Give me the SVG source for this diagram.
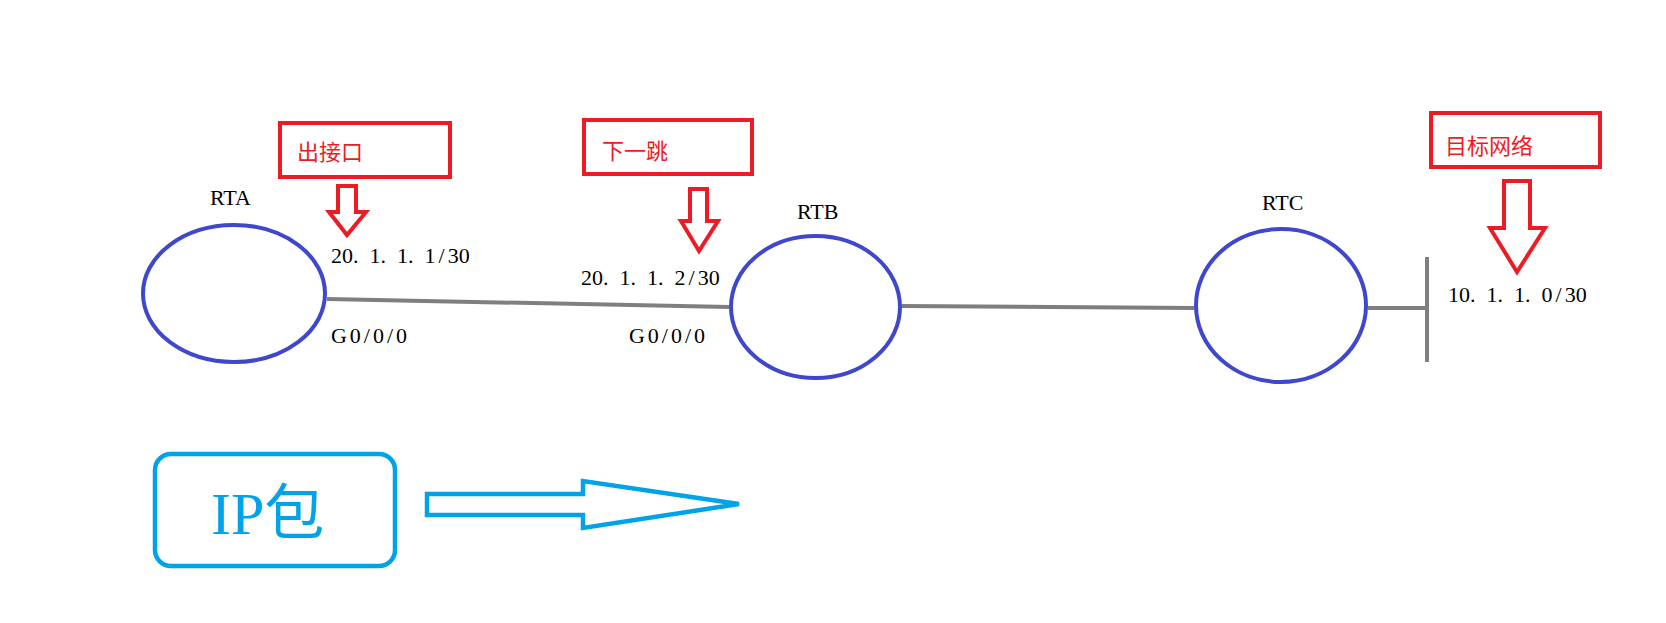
<svg xmlns="http://www.w3.org/2000/svg" width="1666" height="623" viewBox="0 0 1666 623">
<style>
.router{fill:none;stroke:#3F48CC;stroke-width:4}
.link{stroke:#7F7F7F;stroke-width:4;fill:none}
.rbox{fill:#fff;stroke:#ED1C24;stroke-width:4}
.rarrow{fill:#fff;stroke:#ED1C24;stroke-width:4;stroke-linejoin:miter}
.rlabel{font-family:"Liberation Serif","Noto Sans CJK SC",serif;font-size:22px;fill:#ED1C24}
.lbl{font-family:"Liberation Serif","Noto Sans CJK SC",serif;font-size:22px;fill:#000}
.blue{fill:#fff;stroke:#00A2E8;stroke-width:4.5}
</style>
<rect width="1666" height="623" fill="#fff"/>
<g id="connectors">
<line class="link" x1="327" y1="299" x2="729" y2="307"/>
<line class="link" x1="902" y1="306" x2="1194" y2="308"/>
<line class="link" x1="1368" y1="308" x2="1427" y2="308"/>
<line class="link" x1="1427" y1="257" x2="1427" y2="362"/>
</g>
<g id="RTA">
<ellipse class="router" cx="234" cy="293.5" rx="91" ry="68.5"/>
<text class="lbl" x="210" y="205">RTA</text>
<text class="lbl" x="331" y="263">20.<tspan dx="11">1.</tspan><tspan dx="11">1.</tspan><tspan dx="11">1</tspan><tspan dx="3">/</tspan><tspan dx="3">30</tspan></text>
<text class="lbl" x="331" y="343" textLength="76" lengthAdjust="spacing">G0/0/0</text>
</g>
<g id="RTB">
<ellipse class="router" cx="815.5" cy="307" rx="84.5" ry="71"/>
<text class="lbl" x="797" y="219">RTB</text>
<text class="lbl" x="581" y="285">20.<tspan dx="11">1.</tspan><tspan dx="11">1.</tspan><tspan dx="11">2</tspan><tspan dx="3">/</tspan><tspan dx="3">30</tspan></text>
<text class="lbl" x="629" y="343" textLength="76" lengthAdjust="spacing">G0/0/0</text>
</g>
<g id="RTC">
<ellipse class="router" cx="1281" cy="305.5" rx="85" ry="76.5"/>
<text class="lbl" x="1262" y="210">RTC</text>
</g>
<g id="network">
<text class="lbl" x="1448" y="302">10.<tspan dx="11">1.</tspan><tspan dx="11">1.</tspan><tspan dx="11">0</tspan><tspan dx="3">/</tspan><tspan dx="3">30</tspan></text>
</g>
<g id="label-out-interface">
<rect class="rbox" x="280" y="123" width="170" height="54"/>
<text class="rlabel" x="297" y="160">出接口</text>
<polygon class="rarrow" points="338,186 356,186 356,212 366,212 347,235 329,212 338,212"/>
</g>
<g id="label-next-hop">
<rect class="rbox" x="584" y="120" width="168" height="54"/>
<text class="rlabel" x="602" y="159">下一跳</text>
<polygon class="rarrow" points="690,189 707,189 707,221 718,221 699,251 681,221 690,221"/>
</g>
<g id="label-dest-network">
<rect class="rbox" x="1431" y="113" width="169" height="54"/>
<text class="rlabel" x="1445" y="154">目标网络</text>
<polygon class="rarrow" points="1504,181 1530,181 1530,228 1545,228 1517,272 1490,228 1504,228"/>
</g>
<g id="ip-packet">
<rect class="blue" x="155" y="454" width="240" height="112" rx="16" ry="16"/>
<text x="211" y="534" font-family="'Liberation Serif','Noto Sans CJK SC',serif" font-size="60" fill="#00A2E8">IP包</text>
</g>
<g id="direction-arrow">
<polygon class="blue" points="427,494 583,494 583,481 739,504 583,528 583,515 427,515"/>
</g>
</svg>
